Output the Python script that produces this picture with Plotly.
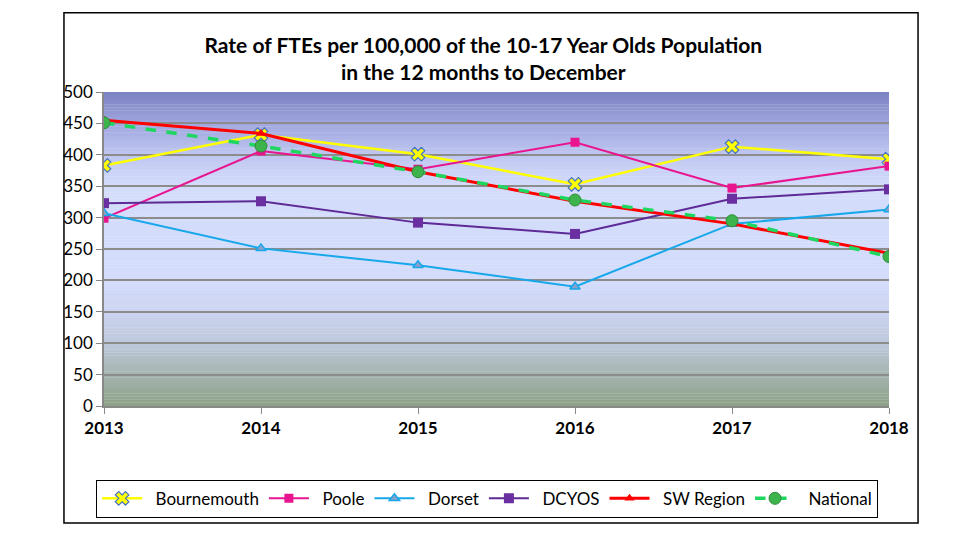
import plotly.graph_objects as go

years = [2013, 2014, 2015, 2016, 2017, 2018]
bournemouth = [383, 432, 401, 353, 413, 393]
poole = [299, 406, 377, 420, 347, 382]
dorset = [307, 251, 224, 190, 290, 313]
dcyos = [323, 326, 292, 274, 330, 345]
sw_region = [455, 434, 373, 326, 290, 243]
national = [451, 414, 373, 328, 295, 238]
series_names = ["Bournemouth", "Poole", "Dorset", "DCYOS", "SW Region", "National"]

title_text = "<b>Rate of FTEs per 100,000 of the 10-17 Year Olds Population<br>in the 12 months to December</b>"

FONT = "Lato"
SP = "\u2002"  # small lead-in gap between legend symbol and text

fig = go.Figure()

fig.add_trace(go.Scatter(x=years, y=bournemouth, name=SP + series_names[0], mode="lines+markers",
                         line=dict(color="#ffff00", width=2.5),
                         marker=dict(symbol="x", size=12, color="#ffff00",
                                     line=dict(color="#4472c4", width=1.2))))
fig.add_trace(go.Scatter(x=years, y=poole, name=SP + series_names[1], mode="lines+markers",
                         line=dict(color="#e8158f", width=2),
                         marker=dict(symbol="square", size=9, color="#e8158f",
                                     line=dict(color="#e8158f", width=0))))
fig.add_trace(go.Scatter(x=years, y=dorset, name=SP + series_names[2], mode="lines+markers",
                         line=dict(color="#16a8ea", width=2),
                         marker=dict(symbol="triangle-up", size=9, color="#8aa0c8",
                                     line=dict(color="#16a8ea", width=1.5))))
fig.add_trace(go.Scatter(x=years, y=dcyos, name=SP + series_names[3], mode="lines+markers",
                         line=dict(color="#5e2a96", width=2),
                         marker=dict(symbol="square", size=10, color="#6a2fa0",
                                     line=dict(color="#5e2a96", width=0))))
fig.add_trace(go.Scatter(x=years, y=sw_region, name=SP + series_names[4], mode="lines+markers",
                         line=dict(color="#ff0000", width=3),
                         marker=dict(symbol="triangle-up", size=9, color="#ff0000",
                                     line=dict(color="#ff0000", width=0))))
fig.add_trace(go.Scatter(x=years, y=national, name=SP + series_names[5], mode="lines+markers",
                         line=dict(color="#1ed760", width=3.5, dash="dash"),
                         marker=dict(symbol="circle", size=12, color="#3cb44b",
                                     line=dict(color="#2e8b3a", width=1))))

# vertical gradient background (style only)
stops = [(0, (140, 160, 135)), (50, (165, 180, 175)), (100, (190, 200, 220)),
         (150, (204, 212, 240)), (200, (212, 220, 252)), (350, (212, 220, 252)),
         (400, (190, 198, 240)), (450, (160, 166, 222)), (500, (122, 129, 193))]

def col_at(v):
    for (a, ca), (b, cb) in zip(stops[:-1], stops[1:]):
        if a <= v <= b:
            t = (v - a) / (b - a)
            return "rgb(%d,%d,%d)" % tuple(round(ca[i] + (cb[i] - ca[i]) * t) for i in range(3))
    return "rgb(%d,%d,%d)" % stops[-1][1]

shapes = []
n = 100
for i in range(n):
    y0 = 500 * i / n
    y1 = 500 * (i + 1) / n
    shapes.append(dict(type="rect", xref="paper", yref="y", x0=0, x1=1, y0=y0, y1=y1 + 0.5,
                       fillcolor=col_at((y0 + y1) / 2), line=dict(width=0), layer="below"))
# outer chart border
shapes.append(dict(type="rect", xref="paper", yref="paper", x0=-0.051, x1=1.037,
                   y0=-0.373, y1=1.252, line=dict(color="#000000", width=1.5),
                   fillcolor="rgba(0,0,0,0)", layer="above"))

fig.update_layout(
    width=976, height=549,
    margin=dict(l=96, r=95, t=84, b=151),
    paper_bgcolor="white",
    plot_bgcolor="rgba(0,0,0,0)",
    shapes=shapes,
    title=dict(text=title_text, x=0.487, xanchor="center", y=0.918, yanchor="top",
               font=dict(family=FONT, size=21, color="#000000")),
    font=dict(family=FONT, color="#000000"),
    xaxis=dict(range=[2013, 2018], tickvals=years, ticktext=["<b>%d</b>" % y for y in years],
               showgrid=False, ticks="outside", ticklen=6, tickcolor="#888888",
               tickfont=dict(family=FONT, size=17, color="#000000"), zeroline=False,
               showline=True, linecolor="#888888", linewidth=1.5, fixedrange=True),
    yaxis=dict(range=[0, 500], dtick=50, showgrid=True, gridcolor="#8c8c8c", gridwidth=1.5,
               ticks="outside", ticklen=6, tickcolor="#888888",
               tickfont=dict(family=FONT, size=17, color="#000000"), zeroline=False,
               showline=True, linecolor="#888888", linewidth=1.5, fixedrange=True),
    legend=dict(orientation="h", x=0.488, xanchor="center", y=-0.235, yanchor="top",
                bordercolor="#000000", borderwidth=1, bgcolor="white",
                font=dict(family=FONT, size=17, color="#000000"),
                itemwidth=40, tracegroupgap=0),
    showlegend=True,
)

fig.write_html("out.html")
